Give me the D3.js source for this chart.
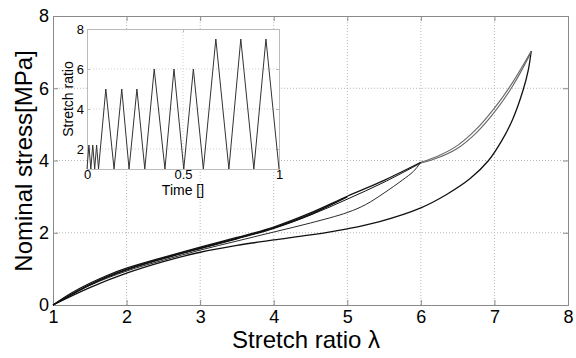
<!DOCTYPE html>
<html>
<head>
<meta charset="utf-8">
<script src="https://cdn.jsdelivr.net/npm/d3@7"></script>
<style>
    body { margin: 0; background: #fff; }
    svg { font-family: "Liberation Sans", Arial, sans-serif; }
</style>
</head>
<body>
<div id="chart"></div>
<script>
// main chart: stretch ratio vs nominal stress, each curve as [stretch, stress]
var virgin = [[1,0],[1.25,0.33],[1.5,0.6],[1.75,0.83],[2,1.02],[2.5,1.32],[3,1.6],[3.5,1.87],[4,2.16],[4.5,2.55],[5,3.01],[5.5,3.45],[6,3.95]];
var reload5 = [[1,0],[1.25,0.3],[1.5,0.57],[1.75,0.8],[2,0.99],[2.5,1.3],[3,1.58],[3.5,1.85],[4,2.14],[4.5,2.52],[5,2.99]];
var unload5 = [[1,0],[1.25,0.28],[1.5,0.55],[1.75,0.78],[2,0.97],[2.5,1.28],[3,1.56],[3.5,1.83],[4,2.12],[4.5,2.5],[5,3.0]];
var reload6 = [[1,0],[1.5,0.56],[2,0.98],[2.5,1.29],[3,1.57],[3.5,1.84],[4,2.13],[4.5,2.49],[5,2.93],[5.5,3.4],[6,3.93]];
var unload6 = [[1,0],[1.5,0.54],[2,0.94],[2.5,1.24],[3,1.52],[3.5,1.77],[4,2.02],[4.5,2.27],[5,2.56],[5.25,2.78],[5.5,3.1],[5.75,3.46],[5.9,3.7],[6,3.95]];
var load75a = [[6,3.95],[6.25,4.14],[6.5,4.42],[6.75,4.86],[7,5.45],[7.25,6.17],[7.5,7.03]];
var load75b = [[6,3.93],[6.25,4.09],[6.5,4.34],[6.75,4.76],[7,5.34],[7.25,6.07],[7.5,7.0]];
var unload75 = [[1,0],[1.5,0.48],[2,0.88],[2.5,1.2],[3,1.46],[3.5,1.65],[4,1.8],[4.5,1.94],[5,2.11],[5.44,2.31],[6,2.69],[6.35,3.06],[6.67,3.5],[6.92,4.0],[7.1,4.55],[7.25,5.15],[7.39,5.95],[7.46,6.5],[7.5,7.03]];

var xTicks = [1, 2, 3, 4, 5, 6, 7, 8];
var yTicks = [0, 2, 4, 6, 8];

// inset: stretch ratio against time
var insetTime = [0,0.01,0.02,0.03,0.04,0.05,0.06,0.098,0.141,0.181,0.219,0.26,0.301,0.35,0.406,0.453,0.504,0.554,0.606,0.671,0.739,0.801,0.869,0.932,1.0];
var insetStretch = [1,2.2,1,2.2,1,2.2,1,5,1,5,1,5,1,6,1,6,1,6,1,7.5,1,7.5,1,7.5,1];
var insetXTicks = [0, 0.5, 1];
var insetYTicks = [2, 4, 6, 8];

var width = 576, height = 358;
var svg = d3.select('#chart').append('svg')
    .attr('width', width)
    .attr('height', height);

var box = { left: 53, right: 568, top: 16, bottom: 305 };
var x = d3.scaleLinear().domain([1, 8]).range([box.left, box.right]);
var y = d3.scaleLinear().domain([0, 8]).range([box.bottom, box.top]);

var gridColor = '#b8b8b8';
var boxColor = '#8a8a8a';

// grid
svg.append('g').selectAll('line').data(xTicks.slice(1, -1)).enter().append('line')
    .attr('x1', function(d) { return x(d); }).attr('x2', function(d) { return x(d); })
    .attr('y1', box.top).attr('y2', box.bottom)
    .attr('stroke', gridColor).attr('stroke-dasharray', '1,2');
svg.append('g').selectAll('line').data(yTicks.slice(1, -1)).enter().append('line')
    .attr('y1', function(d) { return y(d); }).attr('y2', function(d) { return y(d); })
    .attr('x1', box.left).attr('x2', box.right)
    .attr('stroke', gridColor).attr('stroke-dasharray', '1,2');

// axes
var xAxis = svg.append('g').attr('transform', 'translate(0,' + box.bottom + ')')
    .call(d3.axisBottom(x).tickValues(xTicks).tickSize(-5).tickPadding(5).tickFormat(d3.format('d')));
var yAxis = svg.append('g').attr('transform', 'translate(' + box.left + ',0)')
    .call(d3.axisLeft(y).tickValues(yTicks).tickSize(-5).tickPadding(4).tickFormat(d3.format('d')));
svg.append('g').attr('transform', 'translate(0,' + box.top + ')')
    .call(d3.axisTop(x).tickValues(xTicks).tickSize(-5).tickFormat(''));
svg.append('g').attr('transform', 'translate(' + box.right + ',0)')
    .call(d3.axisRight(y).tickValues(yTicks).tickSize(-5).tickFormat(''));

svg.selectAll('.domain, .tick line').attr('stroke', boxColor);
xAxis.selectAll('text').attr('font-size', 18).attr('fill', '#000')
    .attr('font-family', '"Liberation Sans", Arial, sans-serif');
yAxis.selectAll('text').attr('font-size', 18).attr('fill', '#000')
    .attr('font-family', '"Liberation Sans", Arial, sans-serif');

svg.append('text')
    .attr('x', 306).attr('y', 348)
    .attr('text-anchor', 'middle')
    .attr('font-size', 24)
    .text('Stretch ratio λ');
svg.append('text')
    .attr('transform', 'translate(32,' + 161 + ') rotate(-90)')
    .attr('text-anchor', 'middle')
    .attr('font-size', 24)
    .text('Nominal stress[MPa]');

// curves
var line = d3.line()
    .x(function(d) { return x(d[0]); })
    .y(function(d) { return y(d[1]); })
    .curve(d3.curveCatmullRom.alpha(0.5));

function drawCurve(data, color, w) {
    svg.append('path')
        .datum(data)
        .attr('d', line)
        .attr('fill', 'none')
        .attr('stroke', color)
        .attr('stroke-width', w);
}

drawCurve(unload75, '#111', 1.3);
drawCurve(unload6, '#111', 0.9);
drawCurve(unload5, '#111', 1.1);
drawCurve(reload5, '#111', 1.1);
drawCurve(reload6, '#111', 1.0);
drawCurve(virgin, '#111', 1.2);
drawCurve(load75a, '#666', 1.1);
drawCurve(load75b, '#666', 1.1);

// inset
var ib = { left: 87, right: 279, top: 29, bottom: 169 };
var ix = d3.scaleLinear().domain([0, 1]).range([ib.left, ib.right]);
var iy = d3.scaleLinear().domain([1, 8]).range([ib.bottom, ib.top]);

var inset = svg.append('g');
inset.append('rect')
    .attr('x', ib.left).attr('y', ib.top)
    .attr('width', ib.right - ib.left).attr('height', ib.bottom - ib.top)
    .attr('fill', '#fff');

inset.append('g').selectAll('line').data([0.5]).enter().append('line')
    .attr('x1', function(d) { return ix(d); }).attr('x2', function(d) { return ix(d); })
    .attr('y1', ib.top).attr('y2', ib.bottom)
    .attr('stroke', '#d0d0d0').attr('stroke-dasharray', '1,2');
inset.append('g').selectAll('line').data([2, 4, 6]).enter().append('line')
    .attr('y1', function(d) { return iy(d); }).attr('y2', function(d) { return iy(d); })
    .attr('x1', ib.left).attr('x2', ib.right)
    .attr('stroke', '#d0d0d0').attr('stroke-dasharray', '1,2');

var ixAxis = inset.append('g').attr('transform', 'translate(0,' + ib.bottom + ')')
    .call(d3.axisBottom(ix).tickValues(insetXTicks).tickSize(-3).tickPadding(1).tickFormat(d3.format('')));
var iyAxis = inset.append('g').attr('transform', 'translate(' + ib.left + ',0)')
    .call(d3.axisLeft(iy).tickValues(insetYTicks).tickSize(-3).tickPadding(3).tickFormat(d3.format('d')));
inset.append('g').attr('transform', 'translate(0,' + ib.top + ')')
    .call(d3.axisTop(ix).tickValues(insetXTicks).tickSize(-3).tickFormat(''));
inset.append('g').attr('transform', 'translate(' + ib.right + ',0)')
    .call(d3.axisRight(iy).tickValues(insetYTicks).tickSize(-3).tickFormat(''));
inset.selectAll('.domain, .tick line').attr('stroke', '#bbb');
inset.selectAll('text').attr('font-size', 13).attr('fill', '#000')
    .attr('font-family', '"Liberation Sans", Arial, sans-serif');

inset.append('text')
    .attr('x', 183).attr('y', 195)
    .attr('text-anchor', 'middle')
    .attr('font-size', 14)
    .text('Time []');
inset.append('text')
    .attr('transform', 'translate(73,99) rotate(-90)')
    .attr('text-anchor', 'middle')
    .attr('font-size', 14)
    .text('Stretch ratio');

var insetLine = d3.line()
    .x(function(d, i) { return ix(insetTime[i]); })
    .y(function(d) { return iy(d); });
inset.append('path')
    .datum(insetStretch)
    .attr('d', insetLine)
    .attr('fill', 'none')
    .attr('stroke', '#333')
    .attr('stroke-width', 1);
</script>
</body>
</html>
